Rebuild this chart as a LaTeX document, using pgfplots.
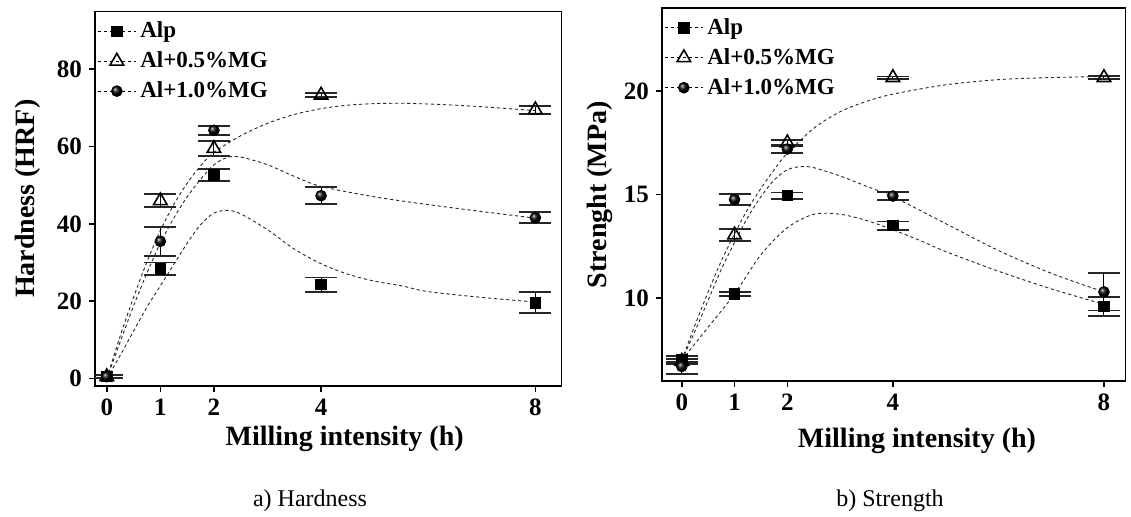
\documentclass[border=0pt]{standalone}
\usepackage{fontspec}
\setmainfont{Liberation Serif}
\usepackage{pgfplots}
\pgfplotsset{compat=1.18}
\begin{document}
\begin{tikzpicture}
\useasboundingbox (0pt,0pt) rectangle (565.5pt,258.5pt);
\pgfplotsset{
 panel/.style={
  scale only axis, anchor=south west,
  axis line style={line width=0.8pt},
  every tick/.style={line width=0.8pt, black},
  tick align=outside, major tick length=3pt,
  xtick pos=bottom, ytick pos=left,
  xtick={0,1,2,4,8},
  /pgf/number format/assume math mode=true,
  ticklabel style={font=\bfseries\fontsize{12.5}{12.5}\selectfont},
  label style={font=\bfseries\fontsize{14}{16}\selectfont},
  legend style={at={(axis description cs:0.0,0.99)}, anchor=north west, draw=none, fill=none,
     font=\bfseries\fontsize{11.5}{13}\selectfont, row sep=1.5pt, inner sep=1pt},
  legend cell align=left,
  legend image code/.code={
    \draw[black, line width=0.45pt, dash pattern=on 1.6pt off 1.4pt] (0pt,0pt) -- (19pt,0pt);
    \draw[##1] plot coordinates {(9.5pt,0pt)};
  },
 },
 fit/.style={black!85, line width=0.45pt, dash pattern=on 1.6pt off 1.4pt, smooth, no markers, forget plot},
 ebar/.style={only marks, black, error bars/y dir=both, error bars/y explicit,
    error bars/error mark options={rotate=90, line width=0.9pt, mark size=8pt, black!85},
    error bars/error bar style={line width=0.5pt, black}},
 alp/.style={ebar, mark=square*, mark size=2.6pt},
 mga/.style={ebar, mark=triangle, mark size=3.9pt, mark options={fill=white, draw=black, line width=0.8pt}},
 mgb/.style={ebar, mark=ball, mark size=2.7pt, mark options={ball color=black}},
}
% ---------------- Hardness ----------------
\begin{axis}[panel, at={(47.5pt,65.5pt)}, width=233.3pt, height=187.2pt,
  xmin=-0.22, xmax=8.49, ymin=-1.9, ymax=94.9,
  ytick={0,20,40,60,80},
  xlabel={Milling intensity (h)}, ylabel={Hardness (HRF)},
  xlabel style={at={(axis description cs:0.535,-0.14)}, anchor=center},
  ylabel style={at={(axis description cs:-0.145,0.5)}, anchor=center}]
\addplot[fit] coordinates {(0,0) (0.25,6) (0.5,12.3) (0.75,18.5) (1,24) (1.25,29.5) (1.5,35) (1.75,39.8) (2,42.8) (2.25,43.5) (2.5,42.6) (3,38.5) (3.5,33.5) (4,29.7) (4.5,27) (5,25.2) (5.5,24) (6,22.5) (7,21) (8,19.8)};
\addplot[fit] coordinates {(0,0) (0.25,11) (0.5,21) (0.75,30.2) (1,38.3) (1.25,45) (1.5,50.5) (1.75,55) (2,58.5) (2.5,62.8) (3,66) (3.5,68.3) (4,69.8) (4.5,70.7) (5,71.1) (5.5,71.2) (6,71) (6.5,70.7) (7,70.3) (7.5,69.8) (8,69.3)};
\addplot[fit] coordinates {(0,0) (0.25,9.5) (0.5,18.8) (0.75,27.3) (1,35) (1.25,41.5) (1.5,47) (1.75,51.5) (2,55.3) (2.25,57.2) (2.5,57.3) (3,55.3) (3.5,52.3) (4,49.7) (5,47) (6,45) (7,43.2) (8,41.5)};
\addplot[alp] coordinates {(0,0.6) +- (0,0.3) (1,28.4) +- (0,1.65) (2,52.7) +- (0,1.6) (4,24.3) +- (0,1.85) (8,19.6) +- (0,2.7)};
\addlegendentry{Alp}
\addplot[mga] coordinates {(0,0.5) +- (0,0.3) (1,46.0) +- (0,1.7) (2,59.5) +- (0,1.85) (4,73.3) +- (0,0.5) (8,69.5) +- (0,1.05)};
\addlegendentry{Al+0.5\%MG}
\addplot[mgb] coordinates {(0,0.5) +- (0,0.3) (1,35.5) +- (0,3.8) (2,64.2) +- (0,1.2) (4,47.3) +- (0,2.2) (8,41.6) +- (0,1.4)};
\addlegendentry{Al+1.0\%MG}
\end{axis}
% ---------------- Strength ----------------
\begin{axis}[panel, at={(331pt,68pt)}, width=231.8pt, height=186.4pt,
  xmin=-0.375, xmax=8.41, ymin=6, ymax=24,
  ytick={10,15,20},
  xlabel={Milling intensity (h)}, ylabel={Strenght (MPa)},
  xlabel style={at={(axis description cs:0.55,-0.16)}, anchor=center},
  ylabel style={at={(axis description cs:-0.135,0.5)}, anchor=center}]
\addplot[fit] coordinates {(0,7.0) (0.5,8.6) (1,10.2) (1.5,12.1) (2,13.4) (2.5,14.05) (3,14.05) (3.5,13.75) (4,13.3) (4.5,12.8) (5,12.25) (6,11.3) (7,10.45) (8,9.7)};
\addplot[fit] coordinates {(0,7.0) (0.25,8.7) (0.5,10.3) (0.75,11.8) (1,13.1) (1.25,14.3) (1.5,15.3) (1.75,16.2) (2,17.0) (2.5,18.2) (3,19.0) (3.5,19.5) (4,19.85) (5,20.3) (6,20.55) (7,20.65) (8,20.7)};
\addplot[fit] coordinates {(0,7.0) (0.25,8.4) (0.5,9.9) (0.75,11.4) (1,12.7) (1.25,13.9) (1.5,14.9) (1.75,15.7) (2,16.2) (2.25,16.35) (2.5,16.3) (3,15.9) (3.5,15.4) (4,14.9) (5,13.6) (6,12.3) (7,11.2) (8,10.3)};
\addplot[alp] coordinates {(0,7.05) +- (0,0.15) (1,10.2) +- (0,0.1) (2,14.95) +- (0,0.15) (4,13.5) +- (0,0.2) (8,9.6) +- (0,0.45)};
\addlegendentry{Alp}
\addplot[mga] coordinates {(0,6.95) +- (0,0.12) (1,13.05) +- (0,0.3) (2,17.5) +- (0,0.15) (4,20.65) +- (0,0.05) (8,20.65) +- (0,0.06)};
\addlegendentry{Al+0.5\%MG}
\addplot[mgb] coordinates {(0,6.7) +- (0,0.35) (1,14.76) +- (0,0.27) (2,17.2) +- (0,0.2) (4,14.93) +- (0,0.18) (8,10.3) +- (0,0.9)};
\addlegendentry{Al+1.0\%MG}
\end{axis}
\node[font=\fontsize{12}{14}\selectfont] at (155pt,8pt) {a) Hardness};
\node[font=\fontsize{12}{14}\selectfont] at (445pt,8pt) {b) Strength};
\end{tikzpicture}
\end{document}
